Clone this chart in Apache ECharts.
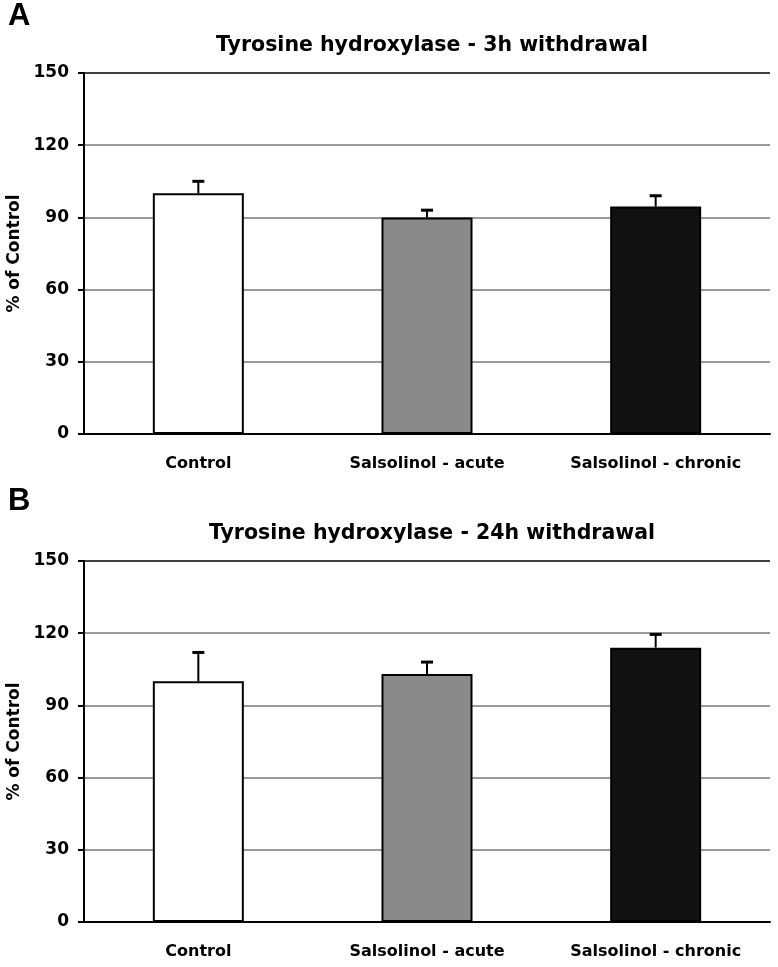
<!DOCTYPE html>
<html><head><meta charset="utf-8">
<script src="https://cdn.jsdelivr.net/npm/echarts@6/dist/echarts.min.js"></script>
<style>html,body{margin:0;padding:0;background:#fff}#c{width:778px;height:967px}</style>
</head><body><div id="c"></div>
<script>
const categories = ['Control', 'Salsolinol - acute', 'Salsolinol - chronic'];
const titleA = 'Tyrosine hydroxylase - 3h withdrawal';
const titleB = 'Tyrosine hydroxylase - 24h withdrawal';
const valuesA = [100, 90, 94.5];
const errorsA = [5, 3, 4.5];
const valuesB = [100, 103, 114];
const errorsB = [12, 5, 5.5];
const barColors = ['#ffffff', '#8a8a8a', '#111111'];
const yTicks = [0, 30, 60, 90, 120, 150];

const FONT = '"DejaVu Sans", sans-serif';
const chart = echarts.init(document.getElementById('c'));

function grid(top) { return { left: 84, right: 8, top: top, height: 361, containLabel: false, outerBoundsMode: 'none' }; }
function xAxis(i) {
  return {
    type: 'category', gridIndex: i, data: categories,
    axisLine: { lineStyle: { color: '#000', width: 2 } },
    axisTick: { show: false },
    axisLabel: { color: '#000', fontFamily: FONT, fontWeight: 'bold', fontSize: 16, margin: 22 }
  };
}
function yAxis(i) {
  return {
    type: 'value', gridIndex: i, min: yTicks[0], max: yTicks[yTicks.length - 1], interval: 30,
    name: '% of Control', nameLocation: 'middle', nameGap: 57, nameRotate: 90,
    nameTextStyle: { color: '#000', fontFamily: FONT, fontWeight: 'bold', fontSize: 17 },
    axisLine: { show: true, lineStyle: { color: '#000', width: 2 } },
    axisTick: { show: true, length: 6, lineStyle: { color: '#000', width: 2 } },
    axisLabel: { color: '#000', fontFamily: FONT, fontWeight: 'bold', fontSize: 17, margin: 15 },
    splitLine: { show: true, lineStyle: { color: ['#000', '#7a7a7a', '#7a7a7a', '#7a7a7a', '#7a7a7a', '#000'], width: 1.6 } }
  };
}
function bars(i, vals) {
  return {
    type: 'bar', xAxisIndex: i, yAxisIndex: i, barWidth: 91, z: 3,
    data: vals.map((v, k) => ({ value: v, itemStyle: { color: barColors[k] } })),
    itemStyle: { borderColor: '#000', borderWidth: 2 }
  };
}
function errs(i, vals, es) {
  return {
    type: 'custom', xAxisIndex: i, yAxisIndex: i, z: 2,
    data: vals.map((v, k) => [k, v, v + es[k]]),
    renderItem: function (params, api) {
      const p0 = api.coord([api.value(0), api.value(1)]);
      const p1 = api.coord([api.value(0), api.value(2)]);
      return {
        type: 'group', children: [
          { type: 'line', shape: { x1: p0[0], y1: p0[1], x2: p1[0], y2: p1[1] }, style: { stroke: '#000', lineWidth: 2 } },
          { type: 'line', shape: { x1: p1[0] - 6, y1: p1[1], x2: p1[0] + 6, y2: p1[1] }, style: { stroke: '#000', lineWidth: 3 } }
        ]
      };
    }
  };
}

chart.setOption({
  animation: false,
  title: [
    { text: 'A', left: 3, top: -4, textStyle: { fontFamily: 'Liberation Sans, Arial', fontWeight: 'bold', fontSize: 31, color: '#000' } },
    { text: titleA, left: 427, textAlign: 'center', top: 30, textStyle: { fontFamily: FONT, fontWeight: 'bold', fontSize: 20.5, color: '#000' } },
    { text: 'B', left: 3, top: 481, textStyle: { fontFamily: 'Liberation Sans, Arial', fontWeight: 'bold', fontSize: 31, color: '#000' } },
    { text: titleB, left: 427, textAlign: 'center', top: 518, textStyle: { fontFamily: FONT, fontWeight: 'bold', fontSize: 20.5, color: '#000' } }
  ],
  grid: [grid(73), grid(561)],
  xAxis: [xAxis(0), xAxis(1)],
  yAxis: [yAxis(0), yAxis(1)],
  series: [bars(0, valuesA), errs(0, valuesA, errorsA), bars(1, valuesB), errs(1, valuesB, errorsB)]
});
</script></body></html>
